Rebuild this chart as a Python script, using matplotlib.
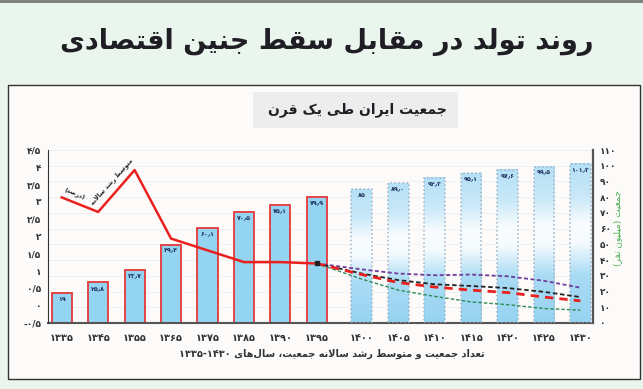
import re
import numpy as np
import matplotlib
matplotlib.use('Agg')
import matplotlib.pyplot as plt
from matplotlib.patches import Rectangle

# data
years = ['1335', '1345', '1355', '1365', '1375', '1385', '1390', '1395',
         '1400', '1405', '1410', '1415', '1420', '1425', '1430']
pop_text = ['19', '25.8', '33.7', '49.4', '60.1', '70.5', '75.1', '79.9',
            '85', '89.0', '92.3', '95.1', '97.6', '99.5', '101.3']
n_hist = 8  # 1335..1395 are census, the rest projections
growth = [3.13, 2.71, 3.92, 1.94, 1.60, 1.26, 1.26, 1.22]
proj_purple = [1.22, 1.05, 0.93, 0.88, 0.90, 0.85, 0.72, 0.52]
proj_black = [1.22, 0.93, 0.74, 0.62, 0.57, 0.51, 0.40, 0.25]
proj_red = [1.22, 0.90, 0.67, 0.54, 0.45, 0.38, 0.25, 0.14]
proj_green = [1.22, 0.77, 0.45, 0.27, 0.11, 0.03, -0.08, -0.13]
left_ticks = [-0.5, 0, 0.5, 1, 1.5, 2, 2.5, 3, 3.5, 4, 4.5]
right_ticks = [0, 10, 20, 30, 40, 50, 60, 70, 80, 90, 100, 110]

title = 'روند تولد در مقابل سقط جنین اقتصادی'
subtitle = 'جمعیت ایران طی یک قرن'
xlabel = 'تعداد جمعیت و متوسط رشد سالانه جمعیت، سال‌های 1335-1430'
ylabel_right = 'جمعیت (میلیون نفر)'
line_label_a = 'متوسط رشد سالانه'
line_label_b = '(درصد)'

# --- minimal persian shaping (matplotlib has no text shaping) ---
FA = {'ا': (0xFE8D, 0), 'آ': (0xFE81, 0), 'ب': (0xFE8F, 1), 'پ': (0xFB56, 1),
      'ت': (0xFE95, 1), 'ث': (0xFE99, 1), 'ج': (0xFE9D, 1), 'چ': (0xFB7A, 1),
      'ح': (0xFEA1, 1), 'خ': (0xFEA5, 1), 'د': (0xFEA9, 0), 'ذ': (0xFEAB, 0),
      'ر': (0xFEAD, 0), 'ز': (0xFEAF, 0), 'ژ': (0xFB8A, 0), 'س': (0xFEB1, 1),
      'ش': (0xFEB5, 1), 'ص': (0xFEB9, 1), 'ض': (0xFEBD, 1), 'ط': (0xFEC1, 1),
      'ظ': (0xFEC5, 1), 'ع': (0xFEC9, 1), 'غ': (0xFECD, 1), 'ف': (0xFED1, 1),
      'ق': (0xFED5, 1), 'ک': (0xFB8E, 1), 'گ': (0xFB92, 1), 'ل': (0xFEDD, 1),
      'م': (0xFEE1, 1), 'ن': (0xFEE5, 1), 'ه': (0xFEE9, 1), 'و': (0xFEED, 0),
      'ی': (0xFBFC, 1)}
DIG = str.maketrans('0123456789', '۰۱۲۳۴۵۶۷۸۹')


def fa(s):
    s = s.translate(DIG)
    out = []
    i = 0
    while i < len(s):
        c = s[i]
        if c not in FA:
            if c != '\u200c':
                out.append(c)
            i += 1
            continue
        prev = s[i - 1] if i > 0 else ''
        link_prev = prev in FA and FA[prev][1]
        if c == 'ل' and i + 1 < len(s) and s[i + 1] == 'ا':
            out.append(chr(0xFEFC if link_prev else 0xFEFB))
            i += 2
            continue
        nxt = s[i + 1] if i + 1 < len(s) else ''
        link_next = FA[c][1] and nxt in FA
        off = {(1, 1): 3, (1, 0): 1, (0, 1): 2, (0, 0): 0}[(int(link_prev), int(link_next))]
        out.append(chr(FA[c][0] + off))
        i += 1
    toks = re.findall(r'[0-9۰-۹]+(?:[./٫\-][0-9۰-۹]+)*|.', ''.join(out), flags=re.S)
    mirror = {'(': ')', ')': '('}
    return ''.join(mirror.get(t, t) for t in reversed(toks))


def fa_num(v, sep='/'):
    return ('%g' % v).replace('.', sep).translate(DIG)


plt.rcParams['font.family'] = ['DejaVu Sans']

fig = plt.figure(figsize=(6.43, 3.89), dpi=100)
fig.patch.set_facecolor('#e9f5ed')
W, H = 643, 389
fig.add_artist(Rectangle((0, 1 - 3 / H), 1, 3 / H, transform=fig.transFigure,
                         color='#808080', lw=0, zorder=-2))
fig.add_artist(Rectangle((8 / W, 10 / H), 632 / W, 294 / H, transform=fig.transFigure,
                         facecolor='#fdfbfa', edgecolor='#333333', lw=1, zorder=-2))
fig.text(327 / W, 1 - 42 / H, fa(title), ha='center', va='center',
         fontsize=19.5, fontweight='bold', color='#1e1e24')
fig.add_artist(Rectangle((253 / W, 1 - 128 / H), 205 / W, 36 / H, transform=fig.transFigure,
                         facecolor='#ededed', edgecolor='none', zorder=-1))
fig.text(447 / W, 1 - 110 / H, fa(subtitle), ha='right', va='center',
         fontsize=10, fontweight='bold', color='#1e1e24')

# positions: extra gap between census and projection bars
pos = np.arange(len(years)) + 0.23 * (np.arange(len(years)) >= n_hist)
pop = [float(t) for t in pop_text]

ax = fig.add_axes([48 / W, 1 - 323 / H, 545 / W, 173 / H])
ax.set_facecolor('none')

# horizontal guide lines
for t in right_ticks[1:]:
    ax.axhline(t, color='#efefef', lw=0.6, zorder=0)

hist_w, proj_w = 0.55, 0.57
ax.bar(pos[:n_hist], pop[:n_hist], hist_w, color='#93d4f0', edgecolor='#e6383a',
       linewidth=1.3, zorder=2)

# projection bars: blue-white-blue vertical gradient with dotted outline
grad_f = np.linspace(0, 1, 100)
grad_a = np.interp(grad_f, [0, 0.3, 0.5, 0.62, 0.8, 1], [0.85, 0.7, 0.08, 0.05, 0.45, 0.6])
base = np.array([0.52, 0.80, 0.94])
img = np.ones((100, 1, 3)) * (1 - grad_a[:, None, None]) + base * grad_a[:, None, None]
for x, h in zip(pos[n_hist:], pop[n_hist:]):
    rect = Rectangle((x - proj_w / 2, 0), proj_w, h, facecolor='none',
                     edgecolor='#9db3c6', linestyle=':', linewidth=1.1, zorder=3)
    ax.add_patch(rect)
    ax.imshow(img, extent=[x - proj_w / 2, x + proj_w / 2, 0, h], origin='lower',
              aspect='auto', zorder=2, interpolation='bilinear')
ax.set_xlim(-0.376, 14.576)
ax.set_ylim(0, 110)

for x, t, h in zip(pos, pop_text, pop):
    ax.text(x, h - 2.2, t.replace('.', '٫').translate(DIG), ha='center', va='top',
            fontsize=4.5, fontweight='bold', color='#1f2e5c', zorder=4)

# growth rate on the left axis (twin created first: twinx resets tick sides)
ax2 = ax.twinx()
ax.yaxis.tick_right()
ax2.yaxis.tick_left()

ax.set_yticks(right_ticks)
ax.set_yticklabels([fa_num(t) for t in right_ticks])
ax.set_xticks(pos)
ax.set_xticklabels([y.translate(DIG) for y in years])
ax.tick_params(axis='y', length=0, pad=5, labelsize=6.5, labelcolor='#333333')
ax.tick_params(axis='x', length=0, pad=7, labelsize=7, labelcolor='#333333')
for lab in ax.get_xticklabels() + ax.get_yticklabels():
    lab.set_fontweight('bold')
for s in ['top', 'left']:
    ax.spines[s].set_visible(False)
ax.spines['right'].set_color('#555555')
ax.spines['right'].set_linewidth(1.6)
ax.spines['bottom'].set_color('#555555')
ax.spines['bottom'].set_linewidth(1.5)
ax.set_xlabel(fa(xlabel), fontsize=7, fontweight='bold', color='#333333')
ax.xaxis.set_label_coords(0.52, -0.15)
ax.text(1.045, 0.55, fa(ylabel_right), transform=ax.transAxes, rotation=90,
        ha='center', va='center', fontsize=6.5, color='#4caf50')

ax2.set_ylim(-0.5, 4.5)
ax2.set_yticks(left_ticks)
ax2.set_yticklabels([fa_num(t) for t in left_ticks])
ax2.tick_params(axis='y', length=0, pad=5, labelsize=6.5, labelcolor='#333333')
for lab in ax2.get_yticklabels():
    lab.set_fontweight('bold')
for s in ['top', 'right', 'bottom']:
    ax2.spines[s].set_visible(False)
ax2.spines['left'].set_color('#333333')
ax2.spines['left'].set_linewidth(0.8)

ax2.plot(pos[:n_hist], growth, color='#e8211f', lw=1.8, zorder=5)
pp = pos[n_hist - 1:]
ax2.plot(pp, proj_purple, color='#6f3d9c', lw=1.3, dashes=(2.2, 1.4), zorder=5)
ax2.plot(pp, proj_black, color='#222222', lw=1.3, dashes=(2.5, 1.5), zorder=5)
ax2.plot(pp, proj_red, color='#e8211f', lw=2.0, dashes=(3, 2.2), zorder=6)
ax2.plot(pp, proj_green, color='#2e8b57', lw=1.0, dashes=(2.5, 1.5), zorder=5)
ax2.plot(pp[0], proj_black[0], 's', color='#222222', ms=2.5, zorder=7)

ax2.text(0.36, 3.26, fa(line_label_b), rotation=-22, ha='center', va='center',
         fontsize=4.5, fontweight='bold', color='#222222')
ax2.text(1.36, 3.58, fa(line_label_a), rotation=48, ha='center', va='center',
         fontsize=4.5, fontweight='bold', color='#222222')

fig.savefig('out.png', dpi=100, facecolor=fig.get_facecolor())
